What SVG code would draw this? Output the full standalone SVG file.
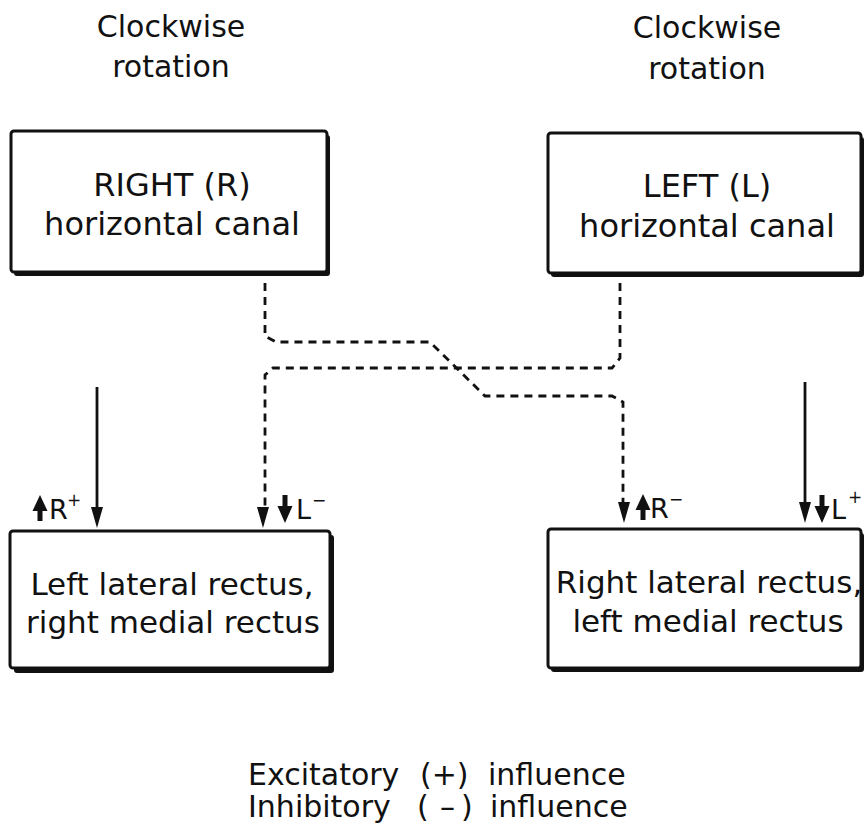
<svg xmlns="http://www.w3.org/2000/svg" width="867" height="830" viewBox="0 0 867 830">
<style>
text{font-family:"DejaVu Sans","Liberation Sans",sans-serif;fill:#111;}
.t32{font-size:32px;text-anchor:middle;}
.t31{font-size:31px;text-anchor:middle;}
.t30{font-size:30px;text-anchor:middle;}
.leg{font-size:30px;}
.lbl{font-size:27px;}
.sup{font-size:17px;}
.box{fill:#fff;stroke:#111;stroke-width:3;}
.shadow{fill:#111;}
.solid{fill:none;stroke:#111;stroke-width:2.8;}
.dash{fill:none;stroke:#111;stroke-width:2.8;stroke-dasharray:8 6;}
.head{fill:#111;}
</style>
<defs>
<path id="ah" d="M-6,-21 L6,-21 L0,0 Z"/>
<path id="sdown" d="M-2.5,-28 h5 v11 h5 L0,0 L-7.5,-17 h5 Z"/>
<path id="sup" d="M-2.5,0 h5 v-10 h5 L0,-26 L-7.5,-10 h5 Z"/>
</defs>
<rect width="867" height="830" fill="#fff"/>

<g id="caption-left">
<text class="t30" x="171" y="37">Clockwise</text>
<text class="t30" x="171" y="77">rotation</text>
</g>
<g id="caption-right">
<text class="t30" x="707" y="38">Clockwise</text>
<text class="t30" x="707" y="79">rotation</text>
</g>

<g id="right-canal">
<rect class="shadow" x="14" y="135" width="316" height="141" rx="3"/>
<rect class="box" x="11" y="131" width="316" height="141" rx="3"/>
<text class="t32" x="172" y="196">RIGHT (R)</text>
<text class="t32" x="172" y="235">horizontal canal</text>
</g>

<g id="left-canal">
<rect class="shadow" x="551" y="137" width="313" height="140" rx="3"/>
<rect class="box" x="548" y="133" width="313" height="140" rx="3"/>
<text class="t32" x="707" y="197">LEFT (L)</text>
<text class="t32" x="707" y="237">horizontal canal</text>
</g>

<g id="left-muscles">
<rect class="shadow" x="14" y="535" width="320" height="138" rx="3"/>
<rect class="box" x="10" y="531" width="320" height="137" rx="3"/>
<text class="t31" x="172" y="595">Left lateral rectus,</text>
<text class="t31" x="173" y="633">right medial rectus</text>
</g>

<g id="right-muscles">
<rect class="shadow" x="551" y="533" width="313" height="139" rx="3"/>
<rect class="box" x="548" y="529" width="313" height="139" rx="3"/>
<text class="t31" x="709" y="593">Right lateral rectus,</text>
<text class="t31" x="708" y="632">left medial rectus</text>
</g>

<g id="connectors">
<line class="solid" x1="97" y1="387" x2="97" y2="510"/>
<use href="#ah" x="97" y="528" class="head"/>
<line class="solid" x1="805" y1="382" x2="805" y2="505"/>
<use href="#ah" x="805" y="523" class="head"/>
<path class="dash" d="M265,283 V336 L276,342 H430 L485,396 H612 L623,402 V506"/>
<use href="#ah" x="624" y="523" class="head"/>
<path class="dash" d="M620,283 V358 L612,368 H273 L265,375 V510"/>
<use href="#ah" x="263" y="528" class="head"/>
</g>

<g id="labels">
<use href="#sup" x="40" y="521" class="head"/>
<text class="lbl" x="49" y="519">R</text>
<text class="sup" x="67" y="506">+</text>
<use href="#sdown" x="285" y="523" class="head"/>
<text class="lbl" x="296" y="519">L</text>
<text class="sup" x="312" y="506">−</text>
<use href="#sup" x="643" y="520" class="head"/>
<text class="lbl" x="650" y="518">R</text>
<text class="sup" x="669" y="505">−</text>
<use href="#sdown" x="822" y="523" class="head"/>
<text class="lbl" x="831" y="519">L</text>
<text class="sup" x="848" y="503">+</text>
</g>

<g id="legend">
<text class="leg" y="785"><tspan x="248">Excitatory</tspan><tspan x="420">(+)</tspan><tspan x="488">influence</tspan></text>
<text class="leg" y="817"><tspan x="248">Inhibitory</tspan><tspan x="417">(</tspan><tspan x="440">–</tspan><tspan x="461">)</tspan><tspan x="490">influence</tspan></text>
</g>
</svg>
